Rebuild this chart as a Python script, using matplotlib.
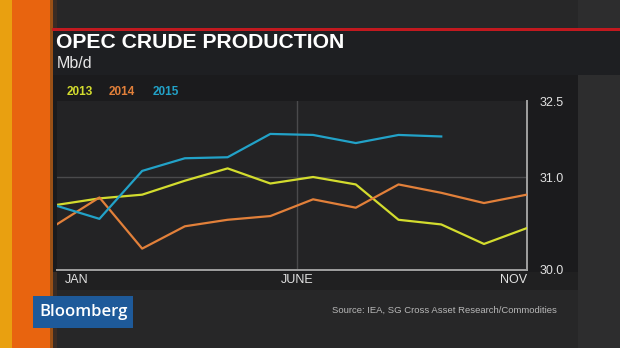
import numpy as np
import matplotlib
matplotlib.use("Agg")
import matplotlib.pyplot as plt
from matplotlib.patches import Rectangle
from matplotlib.transforms import ScaledTranslation

# data: OPEC crude production, Mb/d, Jan..Dec
months = list(range(12))
prod_2013 = [30.70, 30.77, 30.81, 30.96, 31.17, 30.93, 31.00, 30.92, 30.54, 30.49, 30.28, 30.45]
prod_2014 = [30.49, 30.78, 30.23, 30.47, 30.54, 30.58, 30.76, 30.67, 30.92, 30.83, 30.72, 30.81]
prod_2015 = [30.69, 30.55, 31.12, 31.37, 31.39, 31.85, 31.83, 31.67, 31.83, 31.80]
years = ["2013", "2014", "2015"]
colors = ["#d3dc2e", "#e2803a", "#22a2c8"]
x_ticks = [0, 5.63, 11]
x_labels = ["JAN", "JUNE", "NOV"]
y_ticks = [30.0, 31.0, 32.5]
y_labels = ["30.0", "31.0", "32.5"]

plt.rcParams["font.family"] = ["Liberation Sans", "DejaVu Sans"]

W, H = 620, 348
fig = plt.figure(figsize=(6.2, 3.48), dpi=100)
fig.patch.set_facecolor("#272728")


def box(x0, y0, x1, y1, color, z=0):
    # pixel box, y from the top
    fig.add_artist(Rectangle((x0 / W, 1 - y1 / H), (x1 - x0) / W, (y1 - y0) / H,
                             transform=fig.transFigure, facecolor=color,
                             edgecolor="none", zorder=z))


# background pieces
box(0, 0, 620, 348, "#272728", -5)
box(578, 0, 620, 348, "#2d2d2e", -5)
box(0, 0, 12, 348, "#e9a010", -4)
box(12, 0, 50, 348, "#e8640f", -4)
box(50, 0, 53, 348, "#9a5016", -4)
box(53, 0, 57, 348, "#3a2c24", -4)
box(53, 31, 620, 75, "#1e1f22", -3)
box(52, 28, 620, 31, "#c2191f", -3)
box(53, 75, 578, 272, "#1b1b1d", -3)
box(57, 272, 578, 290, "#202021", -3)
box(33, 296, 133, 328, "#1e5a9a", -2)

fig.text(56 / W, 1 - 43 / H, "OPEC CRUDE PRODUCTION", color="white",
         fontsize=15.2, fontweight="bold", va="center", ha="left")
fig.text(57 / W, 1 - 63 / H, "Mb/d", color="#e8e8e8", fontsize=11.5,
         va="center", ha="left")
for yr, c, xp in zip(years, colors, [67, 109, 153]):
    fig.text(xp / W, 1 - 92 / H, yr, color=c, fontsize=8.5, fontweight="bold",
             va="center", ha="left")
fig.text(84 / W, 1 - 312 / H, "Bloomberg", color="white", fontsize=12,
         fontweight="semibold", va="center", ha="center", family=["Open Sans", "DejaVu Sans"])
fig.text(557 / W, 1 - 310 / H, "Source: IEA, SG Cross Asset Research/Commodities",
         color="#b8b8b8", fontsize=6.8, va="center", ha="right")

# y axis: 30-31 and 31-32.5 are drawn with different spacing in the original
k = (76 / 93) / 1.5


def fwd(v):
    v = np.asarray(v, dtype=float)
    return np.where(v <= 31, v - 30, 1 + (v - 31) * k)


def inv(u):
    u = np.asarray(u, dtype=float)
    return np.where(u <= 1, u + 30, 31 + (u - 1) / k)


ax = fig.add_axes([56.7 / W, 1 - 270 / H, (526.7 - 56.7) / W, (270 - 101) / H])
ax.set_facecolor("#232325")
ax.set_yscale("function", functions=(fwd, inv))
ax.set_ylim(30.0, 32.5)
ax.set_xlim(0, 11)

ax.axhline(31.0, color="#4a4a4c", lw=1, zorder=1)
ax.axvline(x_ticks[1], color="#4a4a4c", lw=1, zorder=1)

ax.plot(months, prod_2013, color=colors[0], lw=1.6, zorder=3)
ax.plot(months, prod_2014, color=colors[1], lw=1.6, zorder=3)
ax.plot(months[:len(prod_2015)], prod_2015, color=colors[2], lw=1.6, zorder=3)

for s in ["left", "top"]:
    ax.spines[s].set_visible(False)
for s in ["right", "bottom"]:
    ax.spines[s].set_color("#a0a0a0")
    ax.spines[s].set_linewidth(1.4)

ax.yaxis.tick_right()
ax.set_yticks(y_ticks)
ax.set_yticklabels(y_labels)
ax.yaxis.set_minor_locator(matplotlib.ticker.NullLocator())
ax.set_xticks(x_ticks)
ax.set_xticklabels(x_labels)
ax.tick_params(axis="both", length=0, colors="#e2e2e2", labelsize=9)
ax.tick_params(axis="y", pad=9)
ax.tick_params(axis="x", pad=3)
xl = ax.get_xticklabels()
xl[0].set_ha("left")
xl[0].set_transform(xl[0].get_transform() + ScaledTranslation(8 / 100, 0, fig.dpi_scale_trans))
xl[2].set_ha("right")

fig.savefig("out.png", dpi=100, facecolor=fig.get_facecolor())
